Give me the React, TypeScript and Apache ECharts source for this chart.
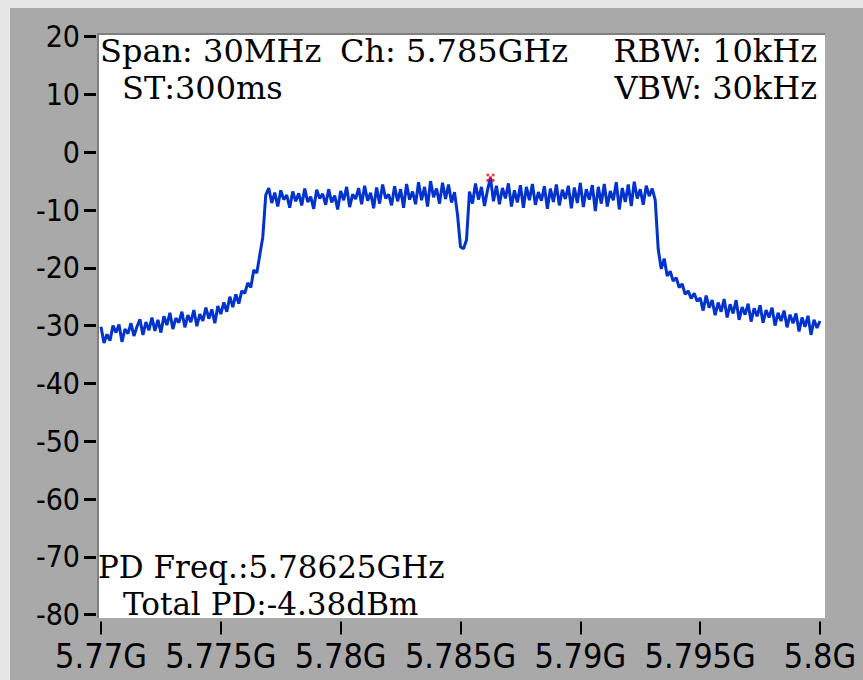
import React, { useEffect, useRef } from 'react';
import * as echarts from 'echarts';

// ---- data ----
const FREQ_START_GHZ = 5.77;
const FREQ_STOP_GHZ = 5.8;
const X_TICK_LABELS = ['5.77G', '5.775G', '5.78G', '5.785G', '5.79G', '5.795G', '5.8G'];
const Y_MIN = -80;
const Y_MAX = 20;
const Y_STEP = 10;

// trace (dBm), sweep points evenly spaced from start to stop
const leftShoulder = [
  -30.2, -33.0, -31.5, -32.6, -30.0, -31.2, -29.8, -32.8, -30.6, -31.4,
  -29.6, -31.8, -30.2, -28.9, -31.6, -29.4, -30.8, -28.6, -30.9, -29.0,
  -31.2, -28.4, -29.9, -27.8, -30.6, -28.7, -29.5, -27.6, -30.3, -28.2,
  -29.4, -27.3, -30.1, -28.0, -29.2, -26.9, -28.8, -27.2, -29.6, -26.6,
  -28.0, -26.0, -27.6, -25.0, -26.8, -24.6, -26.2, -24.0, -24.4, -22.6,
  -23.4, -20.4, -20.9, -17.8, -14.7,
];
const plateauA = [
  -7.4,
  -6.2, -8.8, -7.0, -9.4, -6.6, -8.2, -7.4, -9.6, -6.8, -8.5,
  -7.1, -9.2, -6.3, -8.6, -7.7, -9.8, -6.5, -8.0, -7.2, -9.1,
  -6.4, -8.7, -7.5, -9.9, -6.7, -8.3, -6.0, -9.5, -7.3, -8.1,
  -6.2, -9.0, -5.8, -8.4, -7.0, -9.7, -6.1, -8.9, -5.6, -8.0,
  -7.3, -9.2, -5.9, -8.5, -6.4, -9.6, -5.5, -8.2, -6.8, -9.0,
  -5.2, -8.3, -6.0, -9.4, -5.0, -7.8, -6.3, -8.9, -5.3, -8.1,
  -5.6, -8.7, -6.9,
];
const centerDip = [-10.8, -16.4, -16.7, -15.2];
const plateauB = [
  -6.8,
  -8.9, -5.4, -8.2, -6.0, -9.3, -6.6,
  -4.4,
  -8.5, -5.8, -9.0, -6.2, -8.0, -5.4, -9.4, -6.6, -8.7, -5.7,
  -9.6, -6.0, -8.3, -5.5, -9.1, -6.9, -8.4, -5.9, -9.8, -6.3,
  -8.6, -5.6, -9.2, -6.5, -8.1, -5.8, -9.7, -6.1, -8.8, -5.3,
  -9.5, -6.4, -8.2, -5.7, -10.2, -6.0, -8.9, -5.5, -9.4, -6.7,
  -8.3, -5.2, -9.9, -6.2, -8.6, -5.6, -9.3, -5.1, -8.0, -6.4,
  -9.1, -5.8, -7.6, -6.3,
  -8.3,
];
const rightShoulder = [
  -16.8, -20.2, -18.4, -21.4, -20.6, -22.3, -21.7, -23.4, -22.8, -24.6,
  -24.0, -25.3, -24.4, -25.8,
  -25.2, -27.4, -24.8, -26.9, -25.6, -28.2, -26.0, -27.6, -25.4, -28.6,
  -26.3, -27.9, -25.6, -29.0, -26.8, -28.1, -26.2, -29.3, -27.0, -28.4,
  -26.5, -29.5, -27.3, -28.6, -26.9, -30.0, -27.8, -29.2, -27.4, -30.3,
  -28.1, -29.6, -27.9, -31.0, -28.6, -30.2, -28.3, -31.6, -29.0, -30.4, -29.2,
];
const traceDbm = [...leftShoulder, ...plateauA, ...centerDip, ...plateauB, ...rightShoulder];

const peakFreqGHz = [5.78625];
const peakLevelDbm = [-4.4];

const headerLeft = ['Span: 30MHz', 'Ch: 5.785GHz', 'ST:300ms'];
const headerRight = ['RBW: 10kHz', 'VBW: 30kHz'];
const footer = ['PD Freq.:5.78625GHz', 'Total PD:-4.38dBm'];

const SERIF = '"DejaVu Serif", "Liberation Serif", serif';
const NARROW = '"DejaVu Sans Condensed", "Liberation Sans Narrow", "DejaVu Sans", sans-serif';

export default function App() {
  const ref = useRef<HTMLDivElement>(null);
  useEffect(() => {
    const chart = echarts.init(ref.current!, null, { renderer: 'svg' });
    const n = traceDbm.length;
    const step = (FREQ_STOP_GHZ - FREQ_START_GHZ) / (n - 1);
    const data = traceDbm.map((v, i) => [FREQ_START_GHZ + i * step, v]);
    const peak = peakFreqGHz.map((f, i) => [f, peakLevelDbm[i]]);

    const txt = (text: string, x: number, y: number, align: string, size: number) => ({
      type: 'text',
      x,
      y,
      z: 100,
      style: {
        text,
        fill: '#000',
        font: `${size}px ${SERIF}`,
        align,
        verticalAlign: 'middle',
      },
    });

    chart.setOption({
      animation: false,
      backgroundColor: '#e6e6e6',
      grid: { left: 101, right: 43, top: 36.6, bottom: 65.4, containLabel: false },
      xAxis: {
        type: 'value',
        min: FREQ_START_GHZ,
        max: FREQ_STOP_GHZ,
        interval: 0.005,
        offset: 7,
        axisLine: { show: false, onZero: false },
        axisTick: { show: true, length: 13, lineStyle: { color: '#000', width: 2 } },
        splitLine: { show: false },
        axisLabel: {
          margin: 17,
          color: '#000',
          fontSize: 34,
          fontFamily: NARROW,
          formatter: (_v: number, i: number) => X_TICK_LABELS[i] ?? '',
        },
      },
      yAxis: {
        type: 'value',
        min: Y_MIN,
        max: Y_MAX,
        interval: Y_STEP,
        offset: 5,
        axisLine: { show: false, onZero: false },
        axisTick: { show: true, length: 12, lineStyle: { color: '#000', width: 3 } },
        splitLine: { show: false },
        axisLabel: { margin: 16, color: '#000', fontSize: 30, fontFamily: NARROW },
      },
      graphic: [
        { type: 'rect', z: -10, shape: { x: 10, y: 8, width: 853, height: 672 }, style: { fill: '#a9a9a9' } },
        { type: 'rect', z: -9, shape: { x: 99, y: 35, width: 726, height: 583 }, style: { fill: '#ffffff' } },
        { type: 'rect', z: -8, shape: { x: 97, y: 33, width: 728, height: 2 }, style: { fill: '#7f7f7f' } },
        { type: 'rect', z: -8, shape: { x: 97, y: 33, width: 2, height: 585 }, style: { fill: '#7f7f7f' } },
        txt(headerLeft[0], 100, 50.5, 'left', 32),
        txt(headerLeft[1], 340, 50.5, 'left', 32),
        txt(headerRight[0], 817, 50.5, 'right', 32),
        txt(headerLeft[2], 122, 87.5, 'left', 32),
        txt(headerRight[1], 817, 87.5, 'right', 32),
        txt(footer[0], 98, 567, 'left', 31),
        txt(footer[1], 123, 604, 'left', 31),
      ],
      series: [
        {
          type: 'line',
          data,
          showSymbol: false,
          z: 3,
          lineStyle: { color: '#0033cc', width: 3 },
          itemStyle: { color: '#0033cc' },
        },
        {
          type: 'scatter',
          data: peak,
          z: 4,
          symbol: 'path://M0,0h1v1h-1z M2,0h1v1h-1z M1,1h1v1h-1z M0,2h1v1h-1z M2,2h1v1h-1z',
          symbolSize: 8,
          itemStyle: { color: '#ff0000' },
        },
      ],
    });
    return () => chart.dispose();
  }, []);
  return <div ref={ref} style={{ position: 'fixed', left: 0, top: 0, width: 863, height: 680 }} />;
}
